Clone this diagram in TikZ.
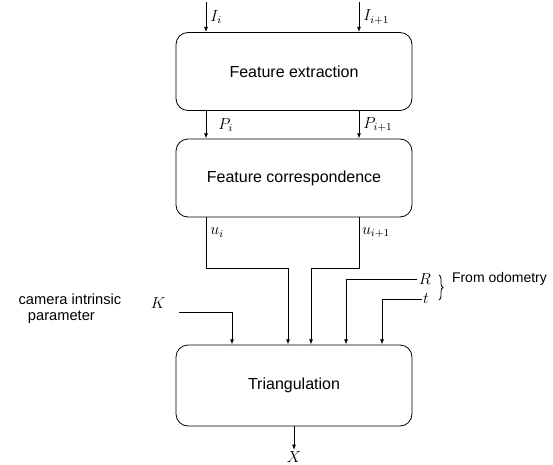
\documentclass[tikz,border=0pt]{standalone}
\usepackage{fontspec}
\setmainfont{Liberation Sans}
\usetikzlibrary{arrows.meta, positioning, decorations.pathreplacing}

\begin{document}
\begin{tikzpicture}[
    x=0.75pt, y=-0.75pt,
    box/.style={rectangle, draw, semithick, rounded corners=9pt, minimum width=177pt, minimum height=58.5pt, align=center, font=\fontsize{12}{14}\selectfont},
    arrow/.style={-{Latex[length=4pt, width=3pt]}, semithick},
    lbl/.style={inner sep=1pt, font=\fontsize{11.5}{13}\selectfont},
]
    \useasboundingbox (0,0) rectangle (553,464);

    % Processing blocks
    \node[box] (extract) at (294,71.5) {Feature extraction};
    \node[box] (corresp) at (294,178) {Feature correspondence};
    \node[box, minimum height=60.75pt] (triang) at (294,385.5) {Triangulation};

    % Image inputs and feature points
    \coordinate (in1) at (206,2);
    \coordinate (in2) at (359,2);
    \draw[arrow] (in1) -- (in1 |- extract.north) node[lbl, midway, right=2pt] {$I_i$};
    \draw[arrow] (in2) -- (in2 |- extract.north) node[lbl, midway, right=2pt] {$I_{i+1}$};
    \draw[arrow] (in1 |- extract.south) -- (in1 |- corresp.north) node[lbl, midway, right=8pt] {$P_i$};
    \draw[arrow] (in2 |- extract.south) -- (in2 |- corresp.north) node[lbl, midway, right=2pt] {$P_{i+1}$};

    % Correspondences into triangulation
    \coordinate (j1) at (288,268);
    \coordinate (j2) at (311,268);
    \draw[arrow] (in1 |- corresp.south) |- node[lbl, pos=0.15, right=2pt] {$u_i$} (j1) -- (j1 |- triang.north);
    \draw[arrow] (in2 |- corresp.south) |- node[lbl, pos=0.15, right=1pt] {$u_{i+1}$} (j2) -- (j2 |- triang.north);

    % Camera intrinsics
    \node[align=left, font=\fontsize{11}{13}\selectfont] (cam) at (70,309) {camera intrinsic\\[-1pt]\hspace*{7pt}parameter};
    \node[lbl] (K) at (158,303) {$K$};
    \coordinate (k0) at (179,312);
    \coordinate (k1) at (232,0);
    \draw[arrow] (k0) -| (k1 |- triang.north);

    % Odometry inputs
    \node[lbl] (R) at (425,279) {$R$};
    \node[lbl] (t) at (426,299) {$t$};
    \coordinate (r1) at (346,0);
    \coordinate (t1) at (382,0);
    \draw[arrow] (R.west) -| (r1 |- triang.north);
    \draw[arrow] (t.west) -| (t1 |- triang.north);
    \draw[semithick, decorate, decoration={brace, amplitude=3pt}] (439,275) -- (439,300);
    \node[font=\fontsize{10.5}{12}\selectfont, right=11pt of R.east, anchor=west] (odo) {From odometry};

    % Output
    \node[lbl] (X) at (294,457) {$X$};
    \draw[arrow] (triang.south) -- (X.north);
\end{tikzpicture}
\end{document}
